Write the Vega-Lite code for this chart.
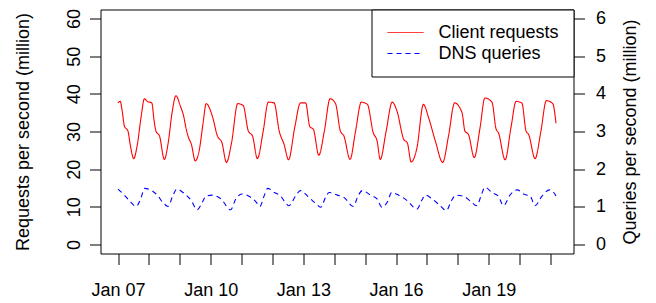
{
  "$schema": "https://vega.github.io/schema/vega-lite/v6.json",
  "autosize": {"type": "none"},
  "width": 473,
  "height": 244,
  "padding": {"left": 100.5, "top": 9.5, "right": 82.5, "bottom": 49.5},
  "background": "white",
  "config": {
    "view": {"stroke": "black", "strokeWidth": 1},
    "font": "Liberation Sans",
    "axis": {
      "labelFont": "Liberation Sans", "labelFontSize": 18, "labelColor": "black",
      "titleFont": "Liberation Sans", "titleFontSize": 18, "titleFontWeight": "normal", "titleColor": "black",
      "tickColor": "black", "tickSize": 11, "tickWidth": 1, "domain": false, "grid": false, "labelOverlap": false, "labelBound": false, "labelFlush": false
    },
    "legend": {
      "labelFont": "Liberation Sans", "labelFontSize": 18, "labelColor": "black"
    }
  },
  "data": {"values": [
    {"s":"Client requests","t":"2015-01-07T00:00:00Z","v":37.6},
    {"s":"Client requests","t":"2015-01-07T01:45:00Z","v":38.0},
    {"s":"Client requests","t":"2015-01-07T03:00:00Z","v":36.0},
    {"s":"Client requests","t":"2015-01-07T05:00:00Z","v":31.4},
    {"s":"Client requests","t":"2015-01-07T07:45:00Z","v":30.1},
    {"s":"Client requests","t":"2015-01-07T09:30:00Z","v":26.5},
    {"s":"Client requests","t":"2015-01-07T12:15:00Z","v":22.8},
    {"s":"Client requests","t":"2015-01-07T15:00:00Z","v":26.5},
    {"s":"Client requests","t":"2015-01-07T18:00:00Z","v":34.0},
    {"s":"Client requests","t":"2015-01-07T20:30:00Z","v":38.7},
    {"s":"Client requests","t":"2015-01-07T22:45:00Z","v":38.0},
    {"s":"Client requests","t":"2015-01-08T02:15:00Z","v":37.6},
    {"s":"Client requests","t":"2015-01-08T04:00:00Z","v":33.0},
    {"s":"Client requests","t":"2015-01-08T05:30:00Z","v":30.1},
    {"s":"Client requests","t":"2015-01-08T08:15:00Z","v":28.8},
    {"s":"Client requests","t":"2015-01-08T12:00:00Z","v":22.6},
    {"s":"Client requests","t":"2015-01-08T15:00:00Z","v":27.0},
    {"s":"Client requests","t":"2015-01-08T18:00:00Z","v":35.0},
    {"s":"Client requests","t":"2015-01-08T21:00:00Z","v":39.5},
    {"s":"Client requests","t":"2015-01-09T00:30:00Z","v":36.7},
    {"s":"Client requests","t":"2015-01-09T03:00:00Z","v":34.1},
    {"s":"Client requests","t":"2015-01-09T04:45:00Z","v":31.0},
    {"s":"Client requests","t":"2015-01-09T06:45:00Z","v":28.4},
    {"s":"Client requests","t":"2015-01-09T09:00:00Z","v":26.6},
    {"s":"Client requests","t":"2015-01-09T12:00:00Z","v":22.2},
    {"s":"Client requests","t":"2015-01-09T15:00:00Z","v":24.8},
    {"s":"Client requests","t":"2015-01-09T18:00:00Z","v":32.0},
    {"s":"Client requests","t":"2015-01-09T20:30:00Z","v":37.4},
    {"s":"Client requests","t":"2015-01-10T01:15:00Z","v":34.1},
    {"s":"Client requests","t":"2015-01-10T05:15:00Z","v":28.8},
    {"s":"Client requests","t":"2015-01-10T08:45:00Z","v":27.0},
    {"s":"Client requests","t":"2015-01-10T12:15:00Z","v":21.8},
    {"s":"Client requests","t":"2015-01-10T16:15:00Z","v":27.1},
    {"s":"Client requests","t":"2015-01-10T21:00:00Z","v":37.4},
    {"s":"Client requests","t":"2015-01-11T01:15:00Z","v":36.9},
    {"s":"Client requests","t":"2015-01-11T05:15:00Z","v":30.1},
    {"s":"Client requests","t":"2015-01-11T08:30:00Z","v":28.8},
    {"s":"Client requests","t":"2015-01-11T12:15:00Z","v":22.8},
    {"s":"Client requests","t":"2015-01-11T16:45:00Z","v":30.0},
    {"s":"Client requests","t":"2015-01-11T20:45:00Z","v":37.8},
    {"s":"Client requests","t":"2015-01-12T01:15:00Z","v":37.6},
    {"s":"Client requests","t":"2015-01-12T05:15:00Z","v":30.1},
    {"s":"Client requests","t":"2015-01-12T09:00:00Z","v":26.6},
    {"s":"Client requests","t":"2015-01-12T12:30:00Z","v":22.5},
    {"s":"Client requests","t":"2015-01-12T17:15:00Z","v":31.0},
    {"s":"Client requests","t":"2015-01-12T21:45:00Z","v":37.6},
    {"s":"Client requests","t":"2015-01-13T01:45:00Z","v":37.6},
    {"s":"Client requests","t":"2015-01-13T05:00:00Z","v":31.3},
    {"s":"Client requests","t":"2015-01-13T07:45:00Z","v":30.6},
    {"s":"Client requests","t":"2015-01-13T12:00:00Z","v":23.7},
    {"s":"Client requests","t":"2015-01-13T16:15:00Z","v":30.0},
    {"s":"Client requests","t":"2015-01-13T20:45:00Z","v":38.7},
    {"s":"Client requests","t":"2015-01-14T01:00:00Z","v":37.4},
    {"s":"Client requests","t":"2015-01-14T04:45:00Z","v":30.1},
    {"s":"Client requests","t":"2015-01-14T07:30:00Z","v":28.8},
    {"s":"Client requests","t":"2015-01-14T12:15:00Z","v":22.6},
    {"s":"Client requests","t":"2015-01-14T16:30:00Z","v":30.0},
    {"s":"Client requests","t":"2015-01-14T21:00:00Z","v":37.8},
    {"s":"Client requests","t":"2015-01-15T01:45:00Z","v":37.2},
    {"s":"Client requests","t":"2015-01-15T06:15:00Z","v":29.7},
    {"s":"Client requests","t":"2015-01-15T09:15:00Z","v":27.5},
    {"s":"Client requests","t":"2015-01-15T11:45:00Z","v":22.6},
    {"s":"Client requests","t":"2015-01-15T16:15:00Z","v":30.0},
    {"s":"Client requests","t":"2015-01-15T21:00:00Z","v":37.8},
    {"s":"Client requests","t":"2015-01-16T00:45:00Z","v":35.4},
    {"s":"Client requests","t":"2015-01-16T06:00:00Z","v":27.9},
    {"s":"Client requests","t":"2015-01-16T08:45:00Z","v":27.0},
    {"s":"Client requests","t":"2015-01-16T11:45:00Z","v":21.9},
    {"s":"Client requests","t":"2015-01-16T16:15:00Z","v":25.7},
    {"s":"Client requests","t":"2015-01-16T21:15:00Z","v":37.2},
    {"s":"Client requests","t":"2015-01-17T01:15:00Z","v":33.7},
    {"s":"Client requests","t":"2015-01-17T06:30:00Z","v":27.5},
    {"s":"Client requests","t":"2015-01-17T12:15:00Z","v":21.8},
    {"s":"Client requests","t":"2015-01-17T16:45:00Z","v":28.8},
    {"s":"Client requests","t":"2015-01-17T21:30:00Z","v":37.6},
    {"s":"Client requests","t":"2015-01-18T03:15:00Z","v":35.0},
    {"s":"Client requests","t":"2015-01-18T05:30:00Z","v":30.1},
    {"s":"Client requests","t":"2015-01-18T08:15:00Z","v":29.2},
    {"s":"Client requests","t":"2015-01-18T12:45:00Z","v":23.1},
    {"s":"Client requests","t":"2015-01-18T17:15:00Z","v":31.0},
    {"s":"Client requests","t":"2015-01-18T21:00:00Z","v":38.9},
    {"s":"Client requests","t":"2015-01-19T02:30:00Z","v":37.8},
    {"s":"Client requests","t":"2015-01-19T05:45:00Z","v":30.6},
    {"s":"Client requests","t":"2015-01-19T07:30:00Z","v":29.7},
    {"s":"Client requests","t":"2015-01-19T12:45:00Z","v":22.5},
    {"s":"Client requests","t":"2015-01-19T17:15:00Z","v":31.0},
    {"s":"Client requests","t":"2015-01-19T21:15:00Z","v":38.0},
    {"s":"Client requests","t":"2015-01-20T01:45:00Z","v":37.6},
    {"s":"Client requests","t":"2015-01-20T05:00:00Z","v":30.1},
    {"s":"Client requests","t":"2015-01-20T07:00:00Z","v":29.2},
    {"s":"Client requests","t":"2015-01-20T12:00:00Z","v":22.8},
    {"s":"Client requests","t":"2015-01-20T16:30:00Z","v":30.0},
    {"s":"Client requests","t":"2015-01-20T20:45:00Z","v":38.2},
    {"s":"Client requests","t":"2015-01-21T01:45:00Z","v":37.4},
    {"s":"Client requests","t":"2015-01-21T04:15:00Z","v":32.2},
    {"s":"DNS queries","t":"2015-01-07T00:00:00Z","v":1.47},
    {"s":"DNS queries","t":"2015-01-07T05:00:00Z","v":1.31},
    {"s":"DNS queries","t":"2015-01-07T10:00:00Z","v":1.12},
    {"s":"DNS queries","t":"2015-01-07T14:00:00Z","v":1.01},
    {"s":"DNS queries","t":"2015-01-07T18:00:00Z","v":1.25},
    {"s":"DNS queries","t":"2015-01-07T20:30:00Z","v":1.49},
    {"s":"DNS queries","t":"2015-01-08T01:15:00Z","v":1.45},
    {"s":"DNS queries","t":"2015-01-08T07:00:00Z","v":1.29},
    {"s":"DNS queries","t":"2015-01-08T10:45:00Z","v":1.12},
    {"s":"DNS queries","t":"2015-01-08T15:00:00Z","v":1.01},
    {"s":"DNS queries","t":"2015-01-08T18:30:00Z","v":1.29},
    {"s":"DNS queries","t":"2015-01-08T21:45:00Z","v":1.47},
    {"s":"DNS queries","t":"2015-01-09T02:30:00Z","v":1.38},
    {"s":"DNS queries","t":"2015-01-09T09:00:00Z","v":1.16},
    {"s":"DNS queries","t":"2015-01-09T13:30:00Z","v":0.92},
    {"s":"DNS queries","t":"2015-01-09T17:30:00Z","v":1.12},
    {"s":"DNS queries","t":"2015-01-09T20:15:00Z","v":1.28},
    {"s":"DNS queries","t":"2015-01-10T01:00:00Z","v":1.31},
    {"s":"DNS queries","t":"2015-01-10T08:00:00Z","v":1.21},
    {"s":"DNS queries","t":"2015-01-10T15:30:00Z","v":0.92},
    {"s":"DNS queries","t":"2015-01-10T19:30:00Z","v":1.21},
    {"s":"DNS queries","t":"2015-01-11T00:15:00Z","v":1.34},
    {"s":"DNS queries","t":"2015-01-11T05:45:00Z","v":1.28},
    {"s":"DNS queries","t":"2015-01-11T11:00:00Z","v":1.14},
    {"s":"DNS queries","t":"2015-01-11T14:15:00Z","v":1.01},
    {"s":"DNS queries","t":"2015-01-11T17:30:00Z","v":1.29},
    {"s":"DNS queries","t":"2015-01-11T20:15:00Z","v":1.49},
    {"s":"DNS queries","t":"2015-01-12T01:30:00Z","v":1.38},
    {"s":"DNS queries","t":"2015-01-12T06:30:00Z","v":1.28},
    {"s":"DNS queries","t":"2015-01-12T10:45:00Z","v":1.08},
    {"s":"DNS queries","t":"2015-01-12T12:45:00Z","v":1.03},
    {"s":"DNS queries","t":"2015-01-12T18:00:00Z","v":1.29},
    {"s":"DNS queries","t":"2015-01-12T21:45:00Z","v":1.43},
    {"s":"DNS queries","t":"2015-01-13T04:15:00Z","v":1.25},
    {"s":"DNS queries","t":"2015-01-13T09:15:00Z","v":1.10},
    {"s":"DNS queries","t":"2015-01-13T13:30:00Z","v":0.99},
    {"s":"DNS queries","t":"2015-01-13T17:15:00Z","v":1.25},
    {"s":"DNS queries","t":"2015-01-13T20:00:00Z","v":1.38},
    {"s":"DNS queries","t":"2015-01-14T02:30:00Z","v":1.31},
    {"s":"DNS queries","t":"2015-01-14T07:30:00Z","v":1.25},
    {"s":"DNS queries","t":"2015-01-14T14:45:00Z","v":1.01},
    {"s":"DNS queries","t":"2015-01-14T18:30:00Z","v":1.29},
    {"s":"DNS queries","t":"2015-01-14T21:45:00Z","v":1.43},
    {"s":"DNS queries","t":"2015-01-15T04:15:00Z","v":1.31},
    {"s":"DNS queries","t":"2015-01-15T09:15:00Z","v":1.21},
    {"s":"DNS queries","t":"2015-01-15T13:00:00Z","v":0.99},
    {"s":"DNS queries","t":"2015-01-15T17:45:00Z","v":1.16},
    {"s":"DNS queries","t":"2015-01-15T20:30:00Z","v":1.38},
    {"s":"DNS queries","t":"2015-01-16T02:00:00Z","v":1.31},
    {"s":"DNS queries","t":"2015-01-16T08:45:00Z","v":1.16},
    {"s":"DNS queries","t":"2015-01-16T16:15:00Z","v":0.94},
    {"s":"DNS queries","t":"2015-01-16T19:45:00Z","v":1.16},
    {"s":"DNS queries","t":"2015-01-16T22:45:00Z","v":1.31},
    {"s":"DNS queries","t":"2015-01-17T04:00:00Z","v":1.21},
    {"s":"DNS queries","t":"2015-01-17T10:15:00Z","v":1.03},
    {"s":"DNS queries","t":"2015-01-17T15:00:00Z","v":0.90},
    {"s":"DNS queries","t":"2015-01-17T19:00:00Z","v":1.16},
    {"s":"DNS queries","t":"2015-01-17T22:30:00Z","v":1.31},
    {"s":"DNS queries","t":"2015-01-18T04:30:00Z","v":1.28},
    {"s":"DNS queries","t":"2015-01-18T09:30:00Z","v":1.16},
    {"s":"DNS queries","t":"2015-01-18T14:45:00Z","v":1.03},
    {"s":"DNS queries","t":"2015-01-18T18:30:00Z","v":1.34},
    {"s":"DNS queries","t":"2015-01-18T21:00:00Z","v":1.52},
    {"s":"DNS queries","t":"2015-01-19T02:30:00Z","v":1.38},
    {"s":"DNS queries","t":"2015-01-19T07:30:00Z","v":1.28},
    {"s":"DNS queries","t":"2015-01-19T11:30:00Z","v":1.03},
    {"s":"DNS queries","t":"2015-01-19T16:30:00Z","v":1.31},
    {"s":"DNS queries","t":"2015-01-19T22:15:00Z","v":1.45},
    {"s":"DNS queries","t":"2015-01-20T03:00:00Z","v":1.34},
    {"s":"DNS queries","t":"2015-01-20T08:15:00Z","v":1.28},
    {"s":"DNS queries","t":"2015-01-20T12:00:00Z","v":1.03},
    {"s":"DNS queries","t":"2015-01-20T17:15:00Z","v":1.28},
    {"s":"DNS queries","t":"2015-01-20T23:15:00Z","v":1.45},
    {"s":"DNS queries","t":"2015-01-21T02:30:00Z","v":1.38},
    {"s":"DNS queries","t":"2015-01-21T04:15:00Z","v":1.29}
  ]},
  "encoding": {
    "x": {
      "field": "t", "type": "temporal",
      "scale": {"type": "utc", "domain": [
        {"year": 2015, "month": 1, "date": 6, "hours": 10, "minutes": 24, "utc": true},
        {"year": 2015, "month": 1, "date": 21, "hours": 17, "minutes": 51, "utc": true}
      ]},
      "axis": {
        "title": null,
        "values": [
          {"year": 2015, "month": 1, "date": 7, "utc": true},
          {"year": 2015, "month": 1, "date": 8, "utc": true},
          {"year": 2015, "month": 1, "date": 9, "utc": true},
          {"year": 2015, "month": 1, "date": 10, "utc": true},
          {"year": 2015, "month": 1, "date": 11, "utc": true},
          {"year": 2015, "month": 1, "date": 12, "utc": true},
          {"year": 2015, "month": 1, "date": 13, "utc": true},
          {"year": 2015, "month": 1, "date": 14, "utc": true},
          {"year": 2015, "month": 1, "date": 15, "utc": true},
          {"year": 2015, "month": 1, "date": 16, "utc": true},
          {"year": 2015, "month": 1, "date": 17, "utc": true},
          {"year": 2015, "month": 1, "date": 18, "utc": true},
          {"year": 2015, "month": 1, "date": 19, "utc": true},
          {"year": 2015, "month": 1, "date": 20, "utc": true},
          {"year": 2015, "month": 1, "date": 21, "utc": true}
        ],
        "labelExpr": "indexof([7, 10, 13, 16, 19], utcdate(datum.value)) >= 0 ? utcFormat(datum.value, '%b %d') : ''",
        "labelPadding": 17, "labelAngle": 0, "labelAlign": "center", "labelBaseline": "top"
      }
    },
    "color": {
      "field": "s", "type": "nominal",
      "scale": {"domain": ["Client requests", "DNS queries"], "range": ["#ff0000", "#0000ff"]},
      "legend": {
        "title": null, "orient": "top-right", "offset": 0, "padding": 14,
        "strokeColor": "black", "fillColor": "white", "cornerRadius": 0,
        "symbolType": "M-3,0H3", "symbolSize": 144, "symbolStrokeWidth": 1,
        "symbolOffset": 11, "labelOffset": 24, "rowPadding": 3
      }
    },
    "strokeDash": {
      "field": "s", "type": "nominal",
      "scale": {"domain": ["Client requests", "DNS queries"], "range": [[1, 0], [5, 4]]},
      "legend": {
        "title": null, "orient": "top-right", "offset": 0, "padding": 14,
        "strokeColor": "black", "fillColor": "white", "cornerRadius": 0,
        "symbolType": "M-3,0H3", "symbolSize": 144, "symbolStrokeWidth": 1,
        "symbolOffset": 11, "labelOffset": 24, "rowPadding": 3
      }
    }
  },
  "layer": [
    {
      "transform": [{"filter": "datum.s === 'Client requests'"}],
      "mark": {"type": "line", "interpolate": "monotone", "strokeWidth": 1.1},
      "encoding": {
        "y": {
          "field": "v", "type": "quantitative",
          "scale": {"domain": [-2.4, 62.4], "nice": false, "zero": false},
          "axis": {
            "orient": "left", "title": "Requests per second (million)",
            "values": [0, 10, 20, 30, 40, 50, 60],
            "labelAngle": 270, "labelAlign": "center", "labelBaseline": "alphabetic", "labelPadding": 10,
            "titleAngle": 270, "titleX": -72, "titleY": 122, "titleAlign": "center", "titleBaseline": "alphabetic"
          }
        }
      }
    },
    {
      "transform": [{"filter": "datum.s === 'DNS queries'"}],
      "mark": {"type": "line", "interpolate": "monotone", "strokeWidth": 1.1},
      "encoding": {
        "y": {
          "field": "v", "type": "quantitative",
          "scale": {"domain": [-0.24, 6.24], "nice": false, "zero": false},
          "axis": {
            "orient": "right", "title": "Queries per second (million)",
            "values": [0, 1, 2, 3, 4, 5, 6],
            "labelAngle": 0, "labelAlign": "left", "labelBaseline": "middle", "labelPadding": 11,
            "titleAngle": 270, "titleX": 62, "titleY": 122, "titleAlign": "center", "titleBaseline": "alphabetic"
          }
        }
      }
    }
  ],
  "resolve": {"scale": {"y": "independent"}, "axis": {"y": "independent"}}
}
